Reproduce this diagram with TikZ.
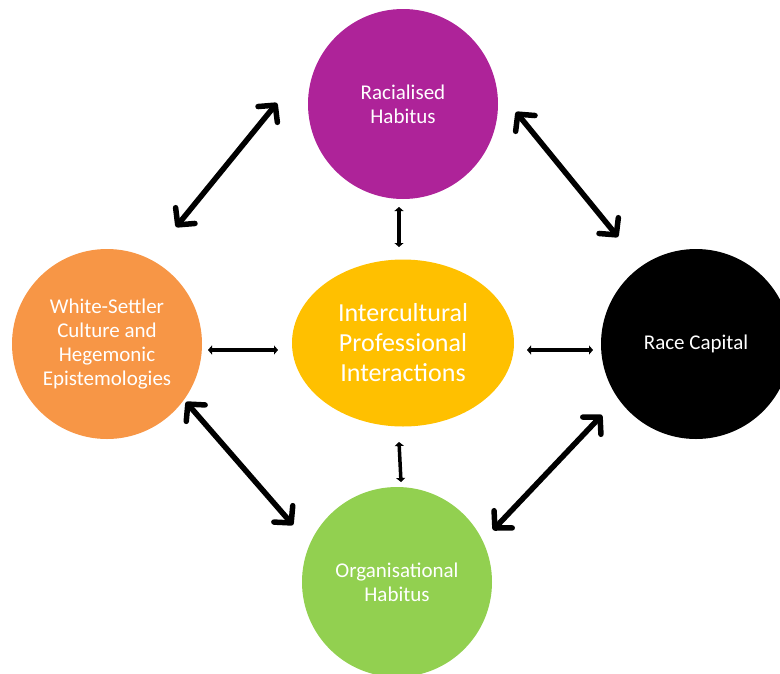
\documentclass[tikz,border=0pt]{standalone}
\usepackage{fontspec}
\setmainfont{Carlito}
\usetikzlibrary{arrows.meta,shapes.geometric}
\definecolor{cpurple}{HTML}{AE2399}
\definecolor{corange}{HTML}{F79646}
\definecolor{cyellow}{HTML}{FFC000}
\definecolor{cgreen}{HTML}{92D050}
\tikzset{
  bubble/.style={circle, minimum size=190pt, inner sep=0pt, align=center, text=white,
    font=\fontsize{21}{24}\selectfont},
  bigarrow/.style={line width=5.5pt, line cap=round, line join=round,
    {Straight Barb[length=12pt,width=25pt,line cap=round,line join=round]}-{Straight Barb[length=12pt,width=25pt,line cap=round,line join=round]}},
  smallarrow/.style={line width=3.5pt,
    {Triangle[length=4pt,width=9pt]}-{Triangle[length=4pt,width=9pt]}}
}
\begin{document}
\begin{tikzpicture}[x=1pt,y=-1pt]
\useasboundingbox (0,0) rectangle (780,673);
\clip (0,0) rectangle (780,673);
\node[bubble, fill=cpurple] (P) at (403,104) {Racialised\\Habitus};
\node[bubble, fill=corange] (O) at (107,344) {White-Settler\\Culture and\\Hegemonic\\Epistemologies};
\node[bubble, fill=black] (K) at (696,344) {Race Capital};
\node[bubble, fill=cgreen] (G) at (397,582) {Organisational\\Habitus};
\node[ellipse, fill=cyellow, minimum width=222pt, minimum height=167pt, inner sep=0pt,
  align=center, text=white, font=\fontsize{26}{30}\selectfont] (Y) at (403,343)
  {Intercultural\\Professional\\Interactions};
% long arrows
\draw[bigarrow] ([shift={(69,-117)}]O.center) -- ([shift={(-126,-1)}]P.center);
\draw[bigarrow] ([shift={(113,8)}]P.center) -- ([shift={(-78,-107)}]K.center);
\draw[bigarrow] ([shift={(79,58)}]O.center) -- ([shift={(-104,-57)}]G.center);
\draw[bigarrow] ([shift={(96,-52)}]G.center) -- ([shift={(-94,71)}]K.center);
% short arrows
\draw[smallarrow] ([shift={(-4,103)}]P.center) -- ([shift={(-4,-96)}]Y.center);
\draw[smallarrow] ([shift={(101,6)}]O.center) -- ([shift={(-125,7)}]Y.center);
\draw[smallarrow] ([shift={(124,7)}]Y.center) -- ([shift={(-103,6)}]K.center);
\draw[smallarrow] ([shift={(-4,99)}]Y.center) -- ([shift={(4,-100)}]G.center);
\end{tikzpicture}
\end{document}
